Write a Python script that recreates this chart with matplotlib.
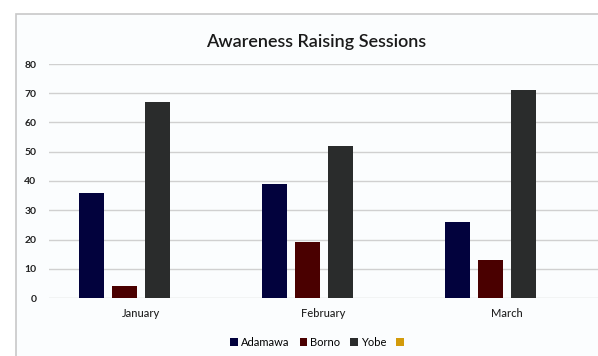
import numpy as np
import matplotlib
matplotlib.use("Agg")
import matplotlib.pyplot as plt
from matplotlib.patches import Patch, Rectangle

# Datos del gráfico
months = ["January", "February", "March"]
adamawa = [36, 39, 26]
borno = [4, 19, 13]
yobe = [67, 52, 71]
extra = [0, 0, 0]  # serie vacía (solo aparece en la leyenda)
series_names = ["Adamawa", "Borno", "Yobe", " "]
y_ticks = [0, 10, 20, 30, 40, 50, 60, 70, 80]

colors = ["#02023d", "#4a0000", "#2a2c2c", "#d39b0b"]

plt.rcParams["font.family"] = ["Lato", "DejaVu Sans"]

fig = plt.figure(figsize=(5.98, 3.56), dpi=100)
fig.patch.set_facecolor("white")

# Borde exterior del gráfico
border = Rectangle((16 / 598, -0.1), 1.2, 1.1 - 14 / 356,
                   transform=fig.transFigure, fill=True,
                   facecolor="#fbfdfe", edgecolor="#c8c8c8", lw=1.2, zorder=-5)
fig.add_artist(border)

ax = fig.add_axes([49 / 598, (356 - 298) / 356, (598 - 49) / 598, (298 - 64) / 356])
ax.set_facecolor("none")
ax.set_zorder(2)

x = np.arange(len(months))
step = 33 / 183
width = 25 / 183
all_series = [adamawa, borno, yobe, extra]
for i, vals in enumerate(all_series):
    offset = (i - 1.5) * step
    ax.bar(x + offset, vals, width=width, color=colors[i], zorder=3)

ax.set_xlim(-0.5, len(months) - 0.5)
ax.set_ylim(0, 80)
ax.set_yticks(y_ticks)
ax.set_xticks(x)
ax.set_xticklabels(months)
ax.tick_params(axis="both", length=0, labelsize=7.5, colors="#222222")
ax.tick_params(axis="x", pad=7, labelsize=8)
ax.tick_params(axis="y", pad=9)
for lbl in ax.get_yticklabels():
    lbl.set_fontweight("bold")
for lbl in ax.get_xticklabels():
    lbl.set_fontweight("medium")
ax.grid(axis="y", color="#d0d0d0", lw=1, zorder=0)
for s in ax.spines.values():
    s.set_visible(False)

fig.text(316 / 598, 1 - 42 / 356, "Awareness Raising Sessions",
         ha="center", va="center", fontsize=13, fontweight="semibold", color="#1a1a1a")

handles = [Patch(facecolor=c, edgecolor="none") for c in colors]
fig.legend(handles, series_names, loc="center", bbox_to_anchor=(320 / 598, 1 - 342 / 356),
           ncol=4, frameon=False, fontsize=8, handlelength=0.7, handleheight=0.7,
           handletextpad=0.25, columnspacing=0.9)

fig.savefig("out.png", dpi=100)
